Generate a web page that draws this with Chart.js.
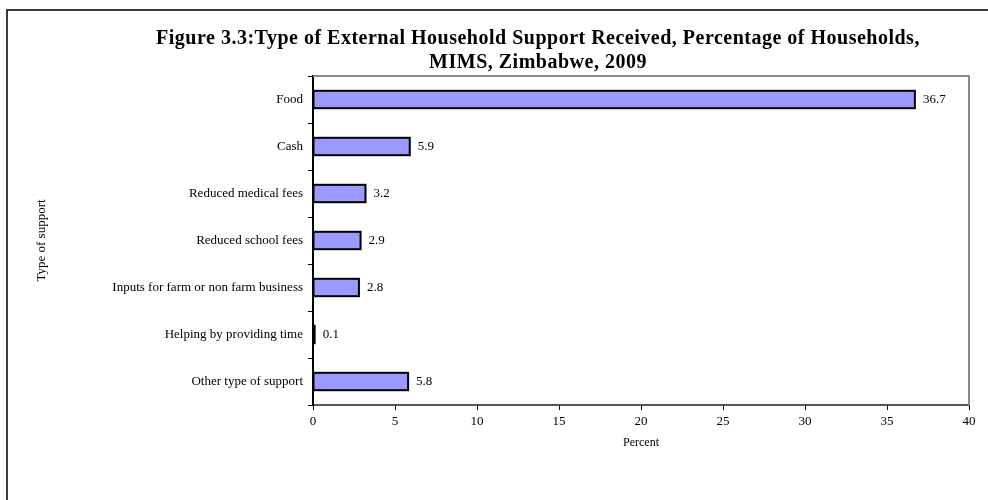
<!doctype html>
<html lang="en">
<head>
    <meta charset="utf-8">
    <title>External Household Support</title>
    <script src="https://cdn.jsdelivr.net/npm/chart.js"></script>
    <style>
        body {
            margin: 0;
            padding: 0;
            background-color: #ffffff;
            overflow: hidden;
            width: 988px;
            height: 500px;
            position: relative;
            font-family: "Times New Roman", "Liberation Serif", serif;
        }
        .frame {
            position: absolute;
            left: 6px;
            top: 9px;
            width: 2000px;
            height: 2000px;
            border-top: 2px solid #3a3a3a;
            border-left: 2px solid #3a3a3a;
        }
        .chart-title {
            position: absolute;
            left: 0;
            top: 25px;
            width: 1076px;
            text-align: center;
            font-size: 20px;
            line-height: 24px;
            letter-spacing: 0.5px;
            font-weight: bold;
            color: #000;
            white-space: nowrap;
        }
        .chart-box {
            position: absolute;
            left: 0;
            top: 0;
            width: 988px;
            height: 500px;
        }
    </style>
</head>
<body>
    <div class="frame"></div>
    <div class="chart-box">
        <canvas id="supportChart" width="988" height="500"></canvas>
    </div>
    <div class="chart-title">
        Figure 3.3:Type of External Household Support Received, Percentage of Households,<br>
        MIMS, Zimbabwe, 2009
    </div>
    <script>
        const categories = [
            'Food',
            'Cash',
            'Reduced medical fees',
            'Reduced school fees',
            'Inputs for farm or non farm business',
            'Helping by providing time',
            'Other type of support'
        ];
        const percentages = [36.7, 5.9, 3.2, 2.9, 2.8, 0.1, 5.8];
        const percentTicks = [0, 5, 10, 15, 20, 25, 30, 35, 40];

        const serif = '"Times New Roman", "Liberation Serif", serif';

        // grey frame on the top and right of the plot area
        const plotFrame = {
            id: 'plotFrame',
            afterDraw(chart) {
                const { ctx, chartArea } = chart;
                ctx.save();
                ctx.strokeStyle = '#8a8a8a';
                ctx.lineWidth = 2;
                ctx.beginPath();
                ctx.moveTo(chartArea.left, chartArea.top);
                ctx.lineTo(chartArea.right, chartArea.top);
                ctx.lineTo(chartArea.right, chartArea.bottom);
                ctx.stroke();
                ctx.restore();
            }
        };

        // outline every bar (so even the tiny ones show) and print its value
        const barValues = {
            id: 'barValues',
            afterDatasetsDraw(chart) {
                const { ctx } = chart;
                const meta = chart.getDatasetMeta(0);
                ctx.save();
                ctx.strokeStyle = '#000';
                ctx.lineWidth = 2;
                meta.data.forEach(bar => {
                    ctx.strokeRect(bar.base, bar.y - bar.height / 2, bar.x - bar.base, bar.height);
                });
                ctx.font = '13px ' + serif;
                ctx.fillStyle = '#000';
                ctx.textAlign = 'left';
                ctx.textBaseline = 'middle';
                meta.data.forEach((bar, i) => {
                    ctx.fillText(percentages[i].toFixed(1), bar.x + 8, bar.y);
                });
                ctx.restore();
            }
        };

        const supportChart = new Chart(document.getElementById('supportChart'), {
            type: 'bar',
            data: {
                labels: categories,
                datasets: [{
                    data: percentages,
                    backgroundColor: '#9999ff',
                    borderWidth: 0,
                    categoryPercentage: 1,
                    barPercentage: 0.37
                }]
            },
            options: {
                indexAxis: 'y',
                responsive: false,
                animation: false,
                layout: {
                    padding: { left: 34, right: 19, top: 76, bottom: 50 }
                },
                scales: {
                    x: {
                        min: 0,
                        max: 40,
                        afterBuildTicks: scale => {
                            scale.ticks = percentTicks.map(v => ({ value: v }));
                        },
                        afterFit: scale => { scale.height = 45; },
                        grid: {
                            drawOnChartArea: false,
                            tickLength: 5,
                            color: '#000'
                        },
                        border: { color: '#555', width: 2 },
                        ticks: {
                            color: '#000',
                            padding: 4,
                            maxRotation: 0,
                            font: { family: serif, size: 13 }
                        },
                        title: {
                            display: true,
                            text: 'Percent',
                            color: '#000',
                            padding: 0,
                            font: { family: serif, size: 12 }
                        }
                    },
                    y: {
                        afterFit: scale => { scale.width = 279; },
                        grid: {
                            drawOnChartArea: false,
                            offset: true,
                            tickLength: 5,
                            color: '#000'
                        },
                        border: { color: '#000', width: 2 },
                        ticks: {
                            color: '#000',
                            padding: 5,
                            font: { family: serif, size: 13 }
                        },
                        title: {
                            display: true,
                            text: 'Type of support',
                            color: '#000',
                            padding: 0,
                            font: { family: serif, size: 13 }
                        }
                    }
                },
                plugins: {
                    legend: { display: false },
                    tooltip: { enabled: false },
                    title: { display: false }
                }
            },
            plugins: [plotFrame, barValues]
        });
    </script>
</body>
</html>
